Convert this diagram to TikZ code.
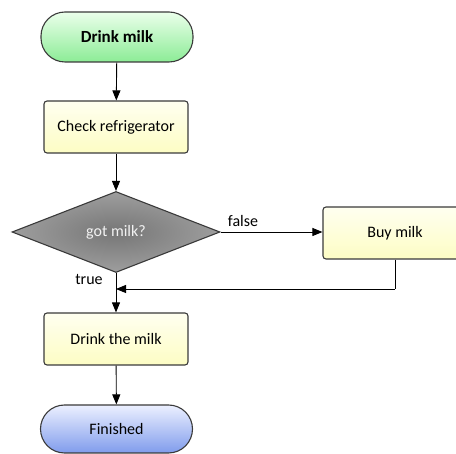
\documentclass[tikz,border=0pt]{standalone}
\usepackage{fontspec}
\setmainfont{Carlito}
\usetikzlibrary{shapes.geometric,arrows.meta}
\definecolor{edge}{HTML}{3A3A3A}
\tikzset{
  base/.style={draw=edge, line width=1.1pt, font=\fontsize{16}{18}\selectfont, text=black, inner sep=0pt},
  terminal/.style={base, rectangle, rounded corners=24pt, minimum width=152pt, minimum height=50pt},
  startbox/.style={terminal, top color=green!8!white, bottom color={rgb,255:red,140;green,236;blue,150}, font=\fontsize{17}{19}\selectfont\bfseries},
  endbox/.style={terminal, top color={rgb,255:red,236;green,240;blue,255}, bottom color={rgb,255:red,128;green,156;blue,236}, minimum height=48pt},
  process/.style={base, rectangle, rounded corners=3pt, minimum width=144pt, minimum height=52pt,
    top color={rgb,255:red,255;green,255;blue,240}, bottom color={rgb,255:red,253;green,253;blue,196}},
  decision/.style={base, diamond, aspect=2.57, minimum width=208pt, minimum height=81pt, inner sep=0pt,
    inner color={rgb,255:red,118;green,118;blue,118}, outer color={rgb,255:red,158;green,158;blue,158}, text={rgb,255:red,242;green,242;blue,242}},
  flow/.style={draw=black, line width=0.9pt, -{Triangle[length=10pt,width=8pt]}},
  lbl/.style={font=\fontsize{16}{18}\selectfont, inner sep=0pt}
}
\begin{document}
\begin{tikzpicture}[x=1pt,y=-1pt]
  \useasboundingbox (0,0) rectangle (456,454);
  \begin{scope}
    \clip (0,0) rectangle (456,454);
    \node[startbox] (start) at (117,37) {Drink milk};
    \node[process] (check) at (116,127) {Check refrigerator};
    \node[decision] (got) at (116,232) {got milk?};
    \node[process] (buy) at (395,233) {Buy milk};
    \node[process] (drink) at (116,339) {Drink the milk};
    \node[endbox] (done) at (116.5,429) {Finished};
    \coordinate (merge) at (116,289);
    \coordinate (turn) at (buy.south |- merge);

    \draw[flow] (start) -- (check);
    \draw[flow] (check) -- (got);
    \draw[flow] (got.east) -- (buy.west |- got.east);
    \node[lbl] (lfalse) at (243,221) {false};
    \draw[line width=0.9pt] (buy.south) -- (turn);
    \draw[flow] (turn) -- (merge);
    \draw[flow] (got.south) -- (drink);
    \node[lbl] (ltrue) at (89,280) {true};
    \draw[flow] (drink) -- (done);
  \end{scope}
\end{tikzpicture}
\end{document}
